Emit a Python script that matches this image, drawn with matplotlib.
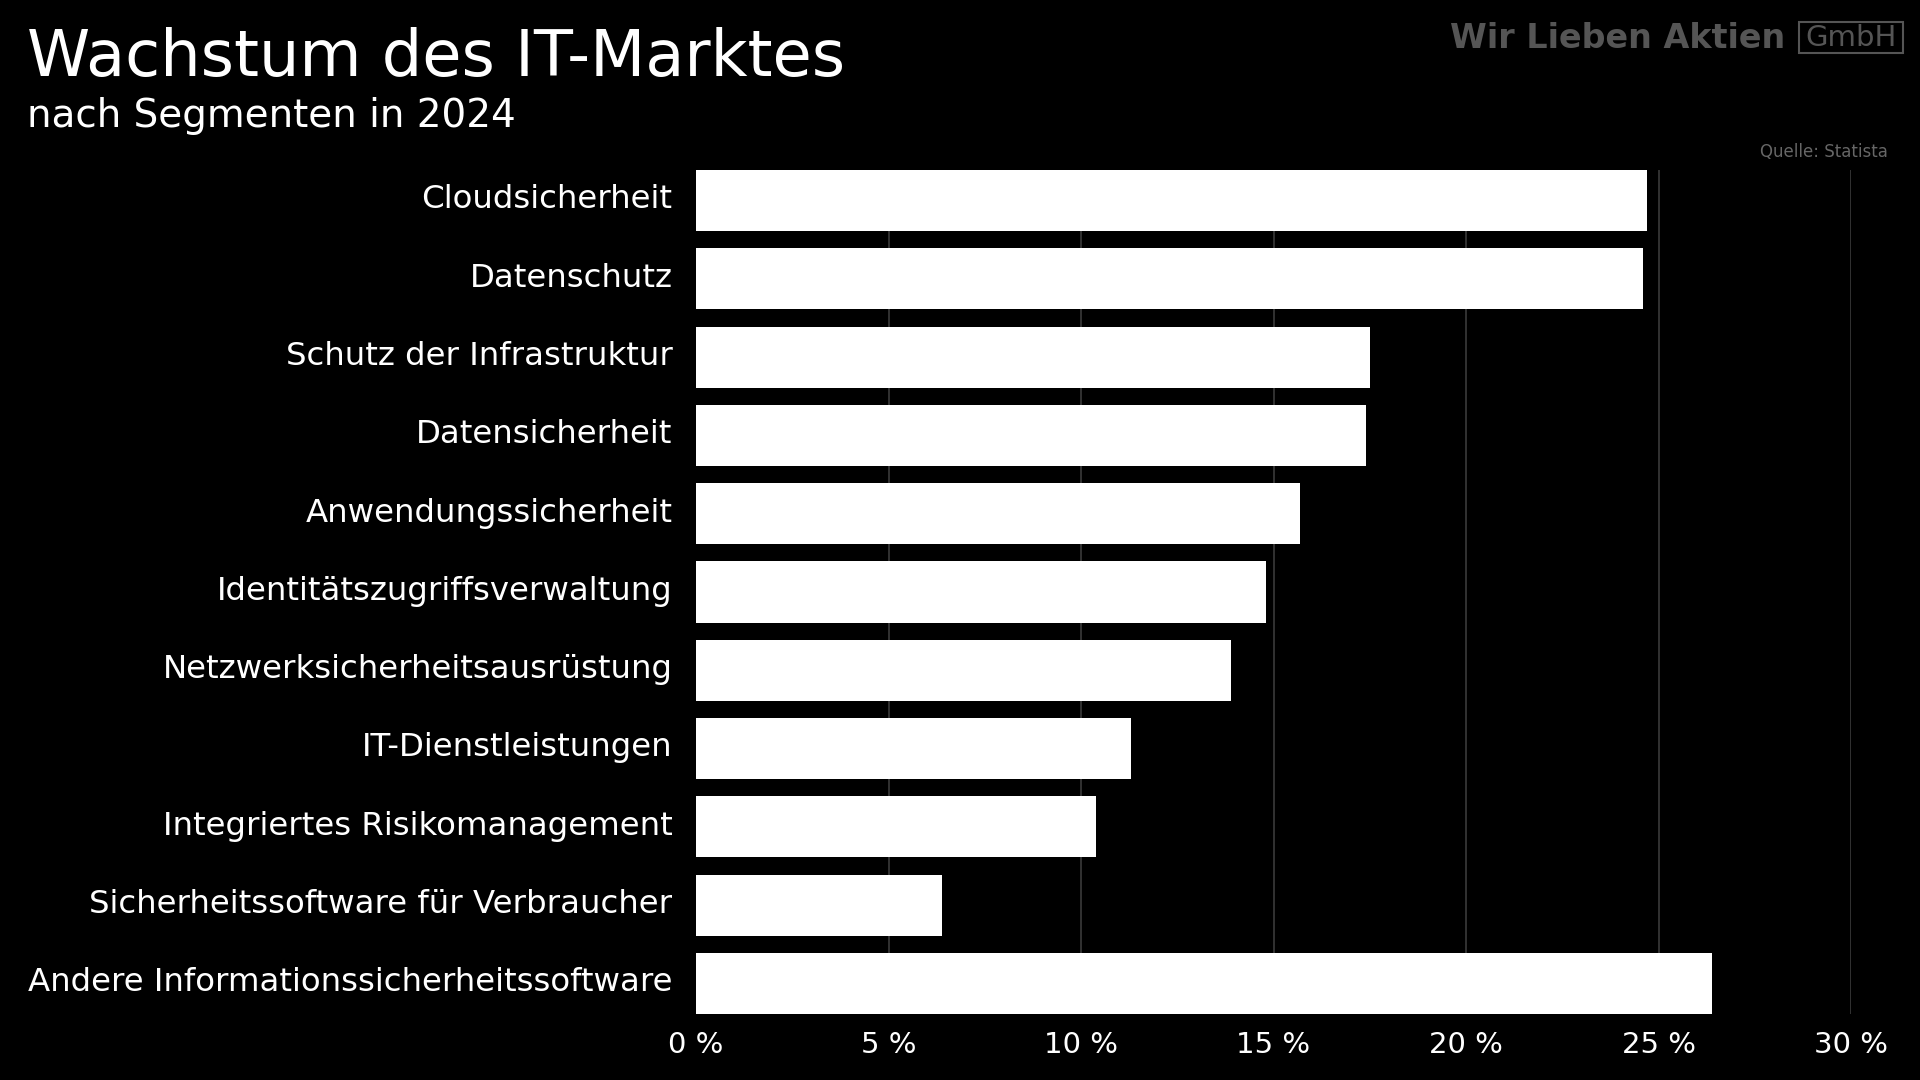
import matplotlib
matplotlib.use("Agg")
import matplotlib.pyplot as plt
from matplotlib.transforms import ScaledTranslation

# growth rates by segment, 2024 (percent)
segments = [
    "Cloudsicherheit",
    "Datenschutz",
    "Schutz der Infrastruktur",
    "Datensicherheit",
    "Anwendungssicherheit",
    "Identitätszugriffsverwaltung",
    "Netzwerksicherheitsausrüstung",
    "IT-Dienstleistungen",
    "Integriertes Risikomanagement",
    "Sicherheitssoftware für Verbraucher",
    "Andere Informationssicherheitssoftware",
]
growth = [24.7, 24.6, 17.5, 17.4, 15.7, 14.8, 13.9, 11.3, 10.4, 6.4, 26.4]
xticks = [0, 5, 10, 15, 20, 25, 30]

plt.rcParams["font.family"] = ["DejaVu Sans"]
BG = "#000000"

fig = plt.figure(figsize=(19.2, 10.8), dpi=100, facecolor=BG)
ax = fig.add_axes([696 / 1920, 1 - 1014 / 1080, (1851 - 696) / 1920, (1014 - 170) / 1080])
ax.set_facecolor(BG)

bar_h = 0.78
ypos = list(range(len(segments)))
ax.barh(ypos, growth, height=bar_h, color="white", zorder=3)
ax.set_ylim(len(segments) - 1 + bar_h / 2, -bar_h / 2)
ax.set_xlim(0, 30)

ax.set_yticks(ypos)
ax.set_yticklabels(segments, fontsize=23.3, color="white")
ax.set_xticks(xticks)
ax.set_xticklabels([f"{v} %" for v in xticks], fontsize=21, color="white")
ax.tick_params(axis="y", length=0, pad=17)
ax.tick_params(axis="x", length=0, pad=12)

# nudge category labels up a little to sit on the bar centres
shift = ScaledTranslation(0, 3 / 72, fig.dpi_scale_trans)
for lab in ax.get_yticklabels():
    lab.set_transform(lab.get_transform() + shift)

for v in xticks[1:]:
    ax.axvline(v, color="#3a3a3a", lw=1.2, zorder=1)
for s in ax.spines.values():
    s.set_visible(False)

# title block
fig.text(27 / 1920, 1 - 58 / 1080, "Wachstum des IT-Marktes", fontsize=46,
         color="white", va="center", ha="left")
fig.text(27 / 1920, 1 - 116 / 1080, "nach Segmenten in 2024", fontsize=28,
         color="white", va="center", ha="left")

# logo and source
fig.text(1785 / 1920, 1 - 39 / 1080, "Wir Lieben Aktien", fontsize=24,
         fontweight="bold", color="#555555", va="center", ha="right")
fig.text(1851 / 1920, 1 - 38 / 1080, "GmbH", fontsize=21,
         color="#555555", va="center", ha="center")
fig.patches.append(plt.Rectangle((1799 / 1920, 1 - 53 / 1080), 104 / 1920, 31 / 1080,
                                 transform=fig.transFigure, fill=False,
                                 edgecolor="#555555", lw=1.5))
fig.text(1888 / 1920, 1 - 152 / 1080, "Quelle: Statista", fontsize=12,
         color="#666666", va="center", ha="right")

fig.savefig("out.png", dpi=100, facecolor=BG)
